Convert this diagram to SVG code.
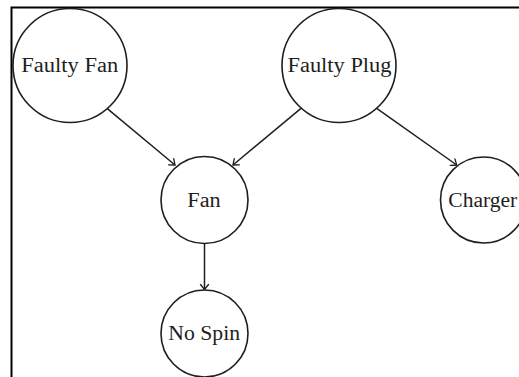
<svg xmlns="http://www.w3.org/2000/svg" width="519" height="377" viewBox="0 0 519 377">
  <style>
    .node circle { fill: #ffffff; stroke: #1e1e1e; stroke-width: 1.6; }
    .node text { font-family: "Liberation Serif", "DejaVu Serif", serif; font-size: 20px; fill: #1e1e1e; text-anchor: middle; }
    .edge { fill: none; stroke: #1e1e1e; stroke-width: 1.5; marker-end: url(#to); }
    .frame { fill: none; stroke: #000000; stroke-width: 2; }
  </style>
  <defs>
    <marker id="to" markerWidth="12" markerHeight="12" refX="0" refY="0" viewBox="-6 -6 12 12" orient="auto" markerUnits="userSpaceOnUse">
      <path d="M -5 -4 Q -1.2 -1 0 0 Q -1.2 1 -5 4" fill="none" stroke="#1e1e1e" stroke-width="1.3" stroke-linecap="round"/>
    </marker>
  </defs>

  <rect width="519" height="377" fill="#ffffff"/>

  <!-- page frame: top and left rules -->
  <g id="frame">
    <path class="frame" d="M 11.5 377 L 11.5 7.5 L 519 7.5"/>
  </g>

  <!-- connectors -->
  <g id="edges">
    <line class="edge" x1="107" y1="108.3" x2="175" y2="165"/>
    <line class="edge" x1="301" y1="108.3" x2="233" y2="165"/>
    <line class="edge" x1="376.7" y1="108.3" x2="456.7" y2="165"/>
    <line class="edge" x1="204.5" y1="243.5" x2="204.5" y2="289.5"/>
  </g>

  <!-- nodes -->
  <g id="faulty-fan" class="node">
    <circle cx="70" cy="65.5" r="57"/>
    <text x="69.7" y="71.7" textLength="97" lengthAdjust="spacingAndGlyphs">Faulty Fan</text>
  </g>
  <g id="faulty-plug" class="node">
    <circle cx="339" cy="65.5" r="57"/>
    <text x="339.5" y="71.7" textLength="104" lengthAdjust="spacingAndGlyphs">Faulty Plug</text>
  </g>
  <g id="fan" class="node">
    <circle cx="204.5" cy="200" r="43.5"/>
    <text x="204" y="207.3" textLength="33.4" lengthAdjust="spacingAndGlyphs">Fan</text>
  </g>
  <g id="charger" class="node">
    <circle cx="483.5" cy="200" r="43"/>
    <text x="482.8" y="207.3" textLength="69" lengthAdjust="spacingAndGlyphs">Charger</text>
  </g>
  <g id="no-spin" class="node">
    <circle cx="204.5" cy="333.5" r="43.5"/>
    <text x="204.2" y="340" textLength="71.7" lengthAdjust="spacingAndGlyphs">No Spin</text>
  </g>
</svg>
